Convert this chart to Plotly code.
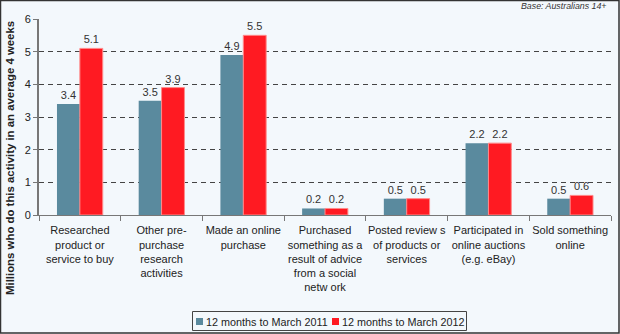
import plotly.graph_objects as go

categories = [
    "Researched<br>product or<br>service to buy",
    "Other pre-<br>purchase<br>research<br>activities",
    "Made an online<br>purchase",
    "Purchased<br>something as a<br>result of advice<br>from a social<br>netw ork",
    "Posted review s<br>of products or<br>services",
    "Participated in<br>online auctions<br>(e.g. eBay)",
    "Sold something<br>online",
]
series_2011 = [3.4, 3.5, 4.9, 0.2, 0.5, 2.2, 0.5]
series_2012 = [5.1, 3.9, 5.5, 0.2, 0.5, 2.2, 0.6]
name_2011 = "12 months to March 2011"
name_2012 = "12 months to March 2012"
y_ticks = [0, 1, 2, 3, 4, 5, 6]

BG = "#F3F8FC"
BLUE = "#5A8A9E"
RED = "#FF1A22"
FONT = "Liberation Sans, Arial, sans-serif"
W, H = 620, 334
L, R, T, B = 39, 9, 19, 119
pw, ph = W - L - R, H - T - B


def px(x):
    return (x - L) / pw


def py(y):
    return (H - B - y) / ph


fig = go.Figure()
fig.add_trace(go.Bar(
    x=categories, y=series_2011, name=name_2011,
    marker=dict(color=BLUE, line=dict(width=0)),
    text=[f"{v:.1f}" for v in series_2011], textposition="outside",
    textfont=dict(size=11, color="#333333", family=FONT), cliponaxis=False,
))
fig.add_trace(go.Bar(
    x=categories, y=series_2012, name=name_2012,
    marker=dict(color=RED, line=dict(width=1, color="#FF8A8A")),
    text=[f"{v:.1f}" for v in series_2012], textposition="outside",
    textfont=dict(size=11, color="#333333", family=FONT), cliponaxis=False,
))

fig.update_layout(
    width=W, height=H,
    margin=dict(l=L, r=R, t=T, b=B, pad=0),
    paper_bgcolor=BG, plot_bgcolor=BG,
    barmode="group", bargap=0.44, bargroupgap=0,
    font=dict(family=FONT, size=11, color="#222222"),
    showlegend=False,
)
fig.update_xaxes(
    type="category", showline=True, linecolor="#777777", linewidth=1,
    ticks="outside", tickson="boundaries", ticklen=5, tickcolor="#777777",
    tickangle=0, ticklabelstandoff=5,
    tickfont=dict(size=11, color="#222222"), showgrid=False,
)
fig.update_yaxes(
    range=[0, 6], tickvals=y_ticks, showline=True, linecolor="#777777", linewidth=2,
    ticks="outside", ticklen=4, tickcolor="#777777",
    tickfont=dict(size=11, color="#222222"),
    showgrid=True, gridcolor="#444444", gridwidth=1, griddash="5px,4px",
    zeroline=False,
)

# y-axis title (longer than the plot height, centred lower as in the reference)
fig.add_annotation(
    text="<b>Millions who do this activity in an average 4 weeks</b>",
    xref="paper", yref="paper", x=px(10), y=py(158), textangle=-90,
    xanchor="center", yanchor="middle", showarrow=False,
    font=dict(size=11.4, color="#222222"),
)

fig.add_annotation(
    text="<i>Base: Australians 14+</i>", xref="paper", yref="paper",
    x=px(609), y=py(6), xanchor="right", yanchor="middle",
    showarrow=False, font=dict(size=8.8, color="#333333"),
)

# legend box
fig.add_shape(
    type="rect", xref="paper", yref="paper",
    x0=px(192.5), x1=px(466.5), y0=py(330.5), y1=py(311.5),
    line=dict(color="#444444", width=1), fillcolor=BG,
)
for sx, col, name in [(196, BLUE, name_2011), (332, RED, name_2012)]:
    fig.add_shape(
        type="rect", xref="paper", yref="paper",
        x0=px(sx), x1=px(sx + 7), y0=py(325), y1=py(318),
        line=dict(width=0), fillcolor=col,
    )
    fig.add_annotation(
        text=name, xref="paper", yref="paper", x=px(sx + 8), y=py(321.5),
        xanchor="left", yanchor="middle", showarrow=False,
        font=dict(size=10.8, color="#222222"),
    )

# outer frame
fig.add_shape(
    type="rect", xref="paper", yref="paper",
    x0=px(0.5), x1=px(W - 1), y0=py(H - 1), y1=py(0.5),
    line=dict(color="#333333", width=1.5), fillcolor="rgba(0,0,0,0)", layer="above",
)

fig.write_html("out.html")
